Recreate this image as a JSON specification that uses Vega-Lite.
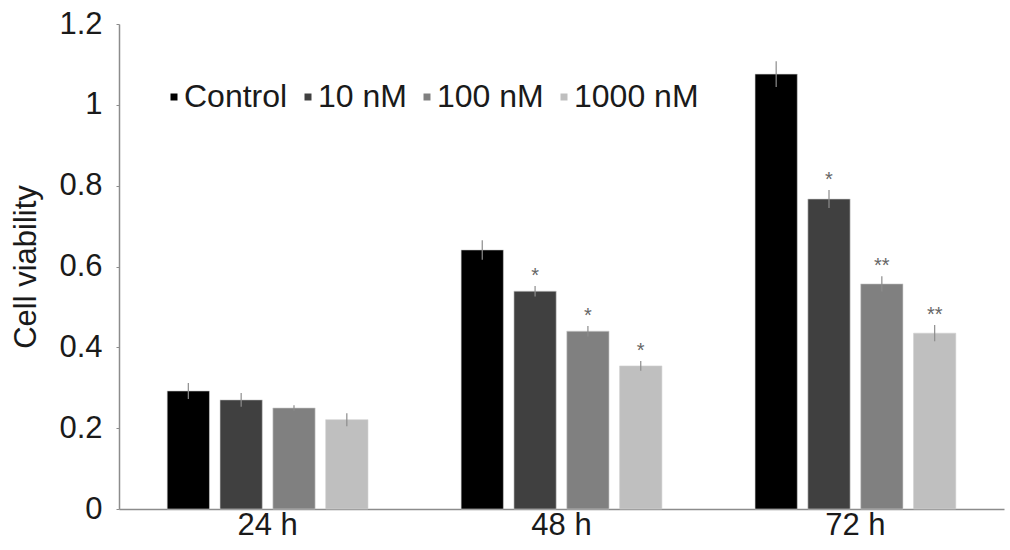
{
  "$schema": "https://vega.github.io/schema/vega-lite/v6.json",
  "autosize": {"type": "none"},
  "padding": {"left": 119, "top": 24, "right": 6, "bottom": 41},
  "width": 885,
  "height": 485,
  "background": "white",
  "config": {
    "view": {"stroke": null},
    "font": "Liberation Sans",
    "axis": {"grid": false, "domainColor": "#8c8c8c", "tickColor": "#8c8c8c", "labelColor": "#1a1a1a", "titleColor": "#1a1a1a", "labelFont": "Liberation Sans", "titleFont": "Liberation Sans"}
  },
  "data": {
    "values": [
      {"time": "24 h", "group": "Control", "value": 0.292, "lo": 0.272, "hi": 0.312, "sig": ""},
      {"time": "24 h", "group": "10 nM", "value": 0.27, "lo": 0.253, "hi": 0.287, "sig": ""},
      {"time": "24 h", "group": "100 nM", "value": 0.25, "lo": 0.243, "hi": 0.257, "sig": ""},
      {"time": "24 h", "group": "1000 nM", "value": 0.221, "lo": 0.205, "hi": 0.237, "sig": ""},
      {"time": "48 h", "group": "Control", "value": 0.641, "lo": 0.617, "hi": 0.665, "sig": ""},
      {"time": "48 h", "group": "10 nM", "value": 0.539, "lo": 0.526, "hi": 0.552, "sig": "*"},
      {"time": "48 h", "group": "100 nM", "value": 0.44, "lo": 0.427, "hi": 0.453, "sig": "*"},
      {"time": "48 h", "group": "1000 nM", "value": 0.354, "lo": 0.342, "hi": 0.366, "sig": "*"},
      {"time": "72 h", "group": "Control", "value": 1.076, "lo": 1.044, "hi": 1.108, "sig": ""},
      {"time": "72 h", "group": "10 nM", "value": 0.767, "lo": 0.745, "hi": 0.789, "sig": "*"},
      {"time": "72 h", "group": "100 nM", "value": 0.557, "lo": 0.538, "hi": 0.576, "sig": "**"},
      {"time": "72 h", "group": "1000 nM", "value": 0.435, "lo": 0.415, "hi": 0.455, "sig": "**"}
    ]
  },
  "encoding": {
    "x": {
      "field": "time", "type": "nominal",
      "scale": {"paddingInner": 0.281, "paddingOuter": 0.146},
      "axis": {"title": null, "labelAngle": 0, "ticks": false, "labelFontSize": 31, "labelPadding": 1, "domainWidth": 1.5}
    },
    "xOffset": {
      "field": "group", "type": "nominal",
      "sort": ["Control", "10 nM", "100 nM", "1000 nM"],
      "scale": {"paddingInner": 0.2, "paddingOuter": 0.1}
    }
  },
  "layer": [
    {
      "mark": {"type": "bar", "stroke": "#d0d0d0", "strokeWidth": 0.6},
      "encoding": {
        "y": {
          "field": "value", "type": "quantitative",
          "scale": {"domain": [0, 1.2], "nice": false},
          "axis": {"values": [0, 0.2, 0.4, 0.6, 0.8, 1, 1.2], "format": "~g", "title": "Cell viability", "titleFontSize": 31, "titleFontWeight": "normal", "titlePadding": 16, "labelFontSize": 31, "labelPadding": 14, "tickSize": 3, "domainWidth": 1.5}
        },
        "color": {
          "field": "group", "type": "nominal",
          "sort": ["Control", "10 nM", "100 nM", "1000 nM"],
          "scale": {"domain": ["Control", "10 nM", "100 nM", "1000 nM"], "range": ["#000000", "#404040", "#808080", "#bfbfbf"]},
          "legend": {
            "title": null, "orient": "none", "legendX": 39, "legendY": 57, "direction": "horizontal",
            "symbolType": "square", "symbolSize": 49, "symbolStrokeWidth": 0, "labelFontSize": 32, "labelColor": "#1a1a1a",
            "labelOffset": -6, "columnPadding": 4, "symbolOffset": 0
          }
        }
      }
    },
    {
      "mark": {"type": "rule", "color": "#8c8c8c", "strokeWidth": 1.2},
      "encoding": {
        "y": {"field": "lo", "type": "quantitative"},
        "y2": {"field": "hi"}
      }
    },
    {
      "mark": {"type": "text", "color": "#666666", "fontSize": 20, "baseline": "top", "dy": -20},
      "encoding": {
        "y": {"field": "hi", "type": "quantitative"},
        "text": {"field": "sig"}
      }
    }
  ]
}
